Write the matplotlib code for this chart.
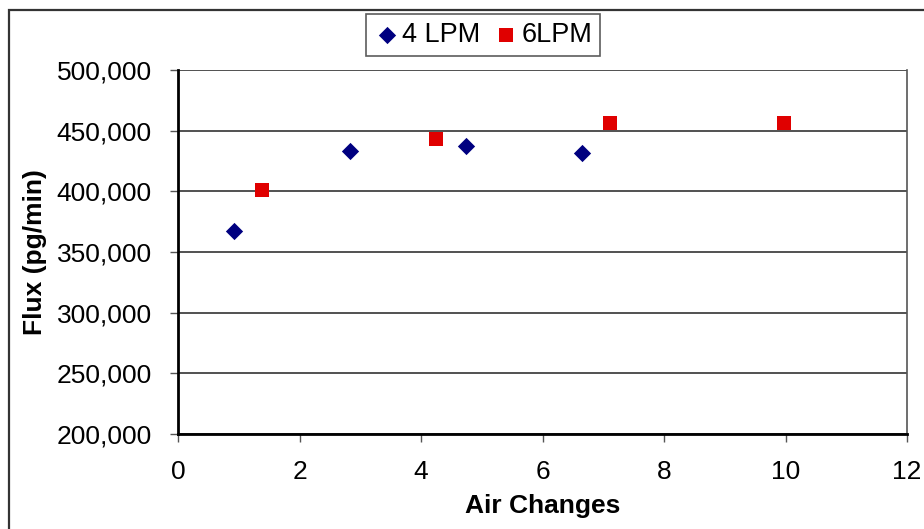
import matplotlib
matplotlib.use('Agg')
import matplotlib.pyplot as plt
from matplotlib.patches import Rectangle
from matplotlib.ticker import FuncFormatter, MultipleLocator

plt.rcParams['font.family'] = ['Liberation Sans', 'DejaVu Sans']

# air changes vs flux for two flow rates
air_4lpm = [0.92, 2.83, 4.74, 6.65]
flux_4lpm = [367000, 433500, 437500, 431500]
air_6lpm = [1.38, 4.25, 7.11, 9.98]
flux_6lpm = [401000, 443000, 456500, 456500]

fig = plt.figure(figsize=(9.24, 5.29), dpi=100)
ax = fig.add_axes([178 / 924, 1 - 434 / 529, (907 - 178) / 924, (434 - 70) / 529])

# chart area frame
fig.patches.append(Rectangle((9 / 924, -0.05), 1.2, 1 - 10 / 529 + 0.05,
                             transform=fig.transFigure, fill=False,
                             edgecolor='#333333', linewidth=1.6))

ax.scatter(air_4lpm, flux_4lpm, marker='D', s=8.8 ** 2, color='#000080',
           label='4 LPM', zorder=3, linewidths=0)
ax.scatter(air_6lpm, flux_6lpm, marker='s', s=9.8 ** 2, color='#e00000',
           label='6LPM', zorder=3, linewidths=0)

ax.set_xlim(0, 12)
ax.set_ylim(200000, 500000)
ax.xaxis.set_major_locator(MultipleLocator(2))
ax.yaxis.set_major_locator(MultipleLocator(50000))
ax.yaxis.set_major_formatter(FuncFormatter(lambda v, p: f'{int(v):,}'))

ax.grid(axis='y', color='#333333', linewidth=1.2)
ax.set_axisbelow(True)
ax.spines['top'].set_visible(False)
ax.spines['right'].set_color('#555555')
ax.spines['right'].set_linewidth(1.2)
ax.spines['left'].set_linewidth(2)
ax.spines['bottom'].set_linewidth(2)

ax.tick_params(axis='both', direction='out', length=6, width=1,
               color='#555555', labelsize=19)
ax.tick_params(axis='x', pad=13)
ax.tick_params(axis='y', pad=13)

ax.set_xlabel('Air Changes', fontsize=19, fontweight='bold', labelpad=7)
ax.set_ylabel('Flux (pg/min)', fontsize=19, fontweight='bold', labelpad=7)

leg = ax.legend(loc='center', bbox_to_anchor=(483 / 924, 1 - 35 / 529),
                bbox_transform=fig.transFigure, ncol=2, fontsize=19.5,
                frameon=True, fancybox=False, handletextpad=0.05,
                columnspacing=0.45, borderpad=0.3, handlelength=1.0)
leg.get_frame().set_edgecolor('#333333')
leg.get_frame().set_linewidth(1.2)

fig.savefig('out.png', dpi=100)
